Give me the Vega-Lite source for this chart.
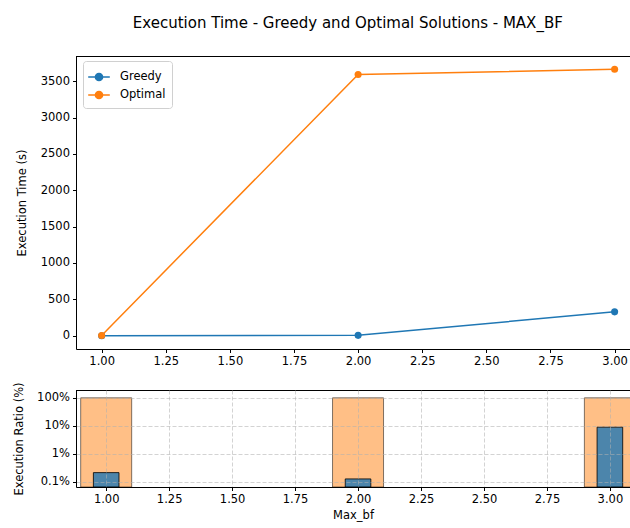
{
  "$schema": "https://vega.github.io/schema/vega-lite/v6.json",
  "padding": {"left": 13, "top": 16, "right": 0, "bottom": 2},
  "config": {
    "font": "DejaVu Sans",
    "view": {"stroke": null},
    "axis": {"labelFont": "DejaVu Sans", "titleFont": "DejaVu Sans", "labelFontSize": 11.5, "titleFontSize": 11.5, "labelColor": "#000", "titleColor": "#000", "titleFontWeight": "normal", "domainColor": "#000", "tickColor": "#000", "tickSize": 3.5, "labelPadding": 3, "grid": false},
    "legend": {"labelFont": "DejaVu Sans", "labelFontSize": 11.5, "labelColor": "#000"}
  },
  "title": {"text": "Execution Time - Greedy and Optimal Solutions - MAX_BF", "fontSize": 15, "fontWeight": "normal", "font": "DejaVu Sans", "color": "#000", "anchor": "middle", "dx": 26, "offset": 25},
  "spacing": 14,
  "datasets": {
    "times": [
      {"max_bf": 1, "algorithm": "Greedy", "time": 0.008},
      {"max_bf": 2, "algorithm": "Greedy", "time": 4.6},
      {"max_bf": 3, "algorithm": "Greedy", "time": 328},
      {"max_bf": 1, "algorithm": "Optimal", "time": 3.9},
      {"max_bf": 2, "algorithm": "Optimal", "time": 3592},
      {"max_bf": 3, "algorithm": "Optimal", "time": 3664}
    ],
    "ratios": [
      {"max_bf": 1, "algorithm": "Optimal", "ratio": 100},
      {"max_bf": 2, "algorithm": "Optimal", "ratio": 100},
      {"max_bf": 3, "algorithm": "Optimal", "ratio": 100},
      {"max_bf": 1, "algorithm": "Greedy", "ratio": 0.215},
      {"max_bf": 2, "algorithm": "Greedy", "ratio": 0.128},
      {"max_bf": 3, "algorithm": "Greedy", "ratio": 9.0}
    ]
  },
  "vconcat": [
    {
      "width": 554,
      "height": 293,
      "data": {"name": "times"},
      "layer": [
        {
          "mark": {"type": "line", "strokeWidth": 1.5, "clip": true},
          "encoding": {
            "x": {"field": "max_bf", "type": "quantitative", "scale": {"domain": [0.9, 3.06], "nice": false, "zero": false},
                  "axis": {"values": [1, 1.25, 1.5, 1.75, 2, 2.25, 2.5, 2.75, 3], "format": ".2f", "title": null}},
            "y": {"field": "time", "type": "quantitative", "scale": {"domain": [-183, 3847], "nice": false, "zero": false},
                  "axis": {"values": [0, 500, 1000, 1500, 2000, 2500, 3000, 3500], "format": "d", "title": "Execution Time (s)", "titlePadding": 12.5}},
            "color": {"field": "algorithm", "type": "nominal",
                      "scale": {"domain": ["Greedy", "Optimal"], "range": ["#1f77b4", "#ff7f0e"]},
                      "legend": {"title": null, "orient": "none", "legendX": 7, "legendY": 5,
                                 "symbolType": "M-1.2,0H1.2M0,-0.4A0.4,0.4,0,1,1,0,0.4A0.4,0.4,0,1,1,0,-0.4Z",
                                 "symbolSize": 324, "symbolStrokeWidth": 1.5, "labelOffset": 11, "rowPadding": 1,
                                 "padding": 6, "strokeColor": "#d0d0d0", "fillColor": "#ffffff", "cornerRadius": 3,
                                 "encode": {"symbols": {"update": {"fill": {"scale": "color", "field": "value"}, "stroke": {"scale": "color", "field": "value"}, "fillOpacity": {"value": 1}, "opacity": {"value": 1}}}}}}
          }
        },
        {
          "mark": {"type": "point", "filled": true, "size": 50, "opacity": 1, "clip": true},
          "encoding": {
            "x": {"field": "max_bf", "type": "quantitative"},
            "y": {"field": "time", "type": "quantitative"},
            "color": {"field": "algorithm", "type": "nominal", "legend": null}
          }
        },
        {
          "mark": {"type": "rule", "color": "#000", "strokeWidth": 1, "yOffset": 0.5},
          "encoding": {"y": {"datum": 3847}}
        }
      ]
    },
    {
      "width": 554,
      "height": 97,
      "data": {"name": "ratios"},
      "layer": [
        {
          "transform": [{"filter": "datum.algorithm === 'Optimal'"}],
          "mark": {"type": "bar", "size": 51, "fill": "#ff7f0e", "fillOpacity": 0.5, "stroke": "#000", "strokeOpacity": 0.5, "strokeWidth": 1, "clip": true},
          "encoding": {
            "x": {"field": "max_bf", "type": "quantitative", "scale": {"domain": [0.9, 3.06], "nice": false, "zero": false},
                  "axis": {"values": [1, 1.25, 1.5, 1.75, 2, 2.25, 2.5, 2.75, 3], "format": ".2f", "title": "Max_bf", "titlePadding": 4,
                           "grid": true, "gridDash": [4, 2], "gridColor": "#b0b0b0", "gridOpacity": 0.7, "gridWidth": 0.8, "zindex": 1}},
            "y": {"field": "ratio", "type": "quantitative", "scale": {"type": "log", "domain": [0.066, 190], "nice": false},
                  "axis": {"values": [0.1, 1, 10, 100], "labelExpr": "datum.value < 1 ? '0.1%' : format(datum.value, 'd') + '%'", "title": "Execution Ratio (%)", "titlePadding": 12.5,
                           "grid": true, "gridDash": [4, 2], "gridColor": "#b0b0b0", "gridOpacity": 0.7, "gridWidth": 0.8, "zindex": 1}},
            "y2": {"datum": 0.066}
          }
        },
        {
          "transform": [{"filter": "datum.algorithm === 'Greedy'"}],
          "mark": {"type": "bar", "size": 25.6, "fill": "#1f77b4", "fillOpacity": 0.8, "stroke": "#000", "strokeOpacity": 0.8, "strokeWidth": 1, "clip": true},
          "encoding": {
            "x": {"field": "max_bf", "type": "quantitative"},
            "y": {"field": "ratio", "type": "quantitative"},
            "y2": {"datum": 0.066}
          }
        },
        {
          "mark": {"type": "rule", "color": "#000", "strokeWidth": 1, "yOffset": 0.5},
          "encoding": {"y": {"datum": 190}}
        }
      ]
    }
  ]
}
